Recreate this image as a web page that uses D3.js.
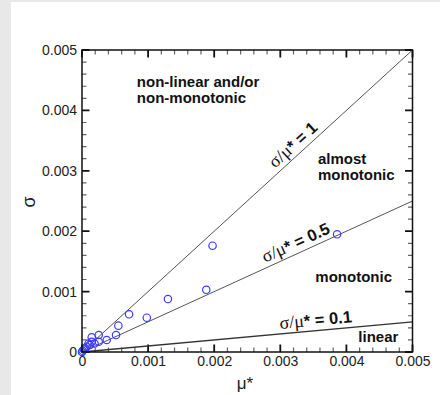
<!DOCTYPE html>
<html><head><meta charset="utf-8">
<script src="https://cdn.jsdelivr.net/npm/d3@7"></script>
<style>
html,body{margin:0;padding:0;background:#e8e8e8;}
svg{display:block;}
</style></head>
<body>
<svg id="chart" width="440" height="395"></svg>
<script>
// ---- data ----
const muStar = [0.003859, 0.001975, 0.00188, 0.00130, 0.00098, 0.000712, 0.00055, 0.000515, 0.000374,
  0.000253, 0.000253, 0.000147, 0.000147, 0.00012, 0.00019, 0.00007, 0.00005, 0.00003, 0.00001, 0.0, 0.0001];
const sigma = [0.001949, 0.00176, 0.00103, 0.000877, 0.000568, 0.000624, 0.000436, 0.000281, 0.000199,
  0.000281, 0.00017, 0.000243, 0.00017, 0.000116, 0.00014, 0.000088, 0.00006, 0.00004, 0.00002, 0.0, 0.00014];
const ratios = [1, 0.5, 0.1];
const ratioLabels = ["1", "0.5", "0.1"];
const ratioLabelX = [0.0033, 0.0033, 0.00355];
const tickValues = [0, 0.001, 0.002, 0.003, 0.004, 0.005];
const tickLabels = ["0", "0.001", "0.002", "0.003", "0.004", "0.005"];
const minorTickValues = [0.0002, 0.0004, 0.0006, 0.0008, 0.0012, 0.0014, 0.0016, 0.0018,
  0.0022, 0.0024, 0.0026, 0.0028, 0.0032, 0.0034, 0.0036, 0.0038, 0.0042, 0.0044, 0.0046, 0.0048];
const regionLabels = [
  {lines: ["non-linear and/or", "non-monotonic"], x: 0.00083, y: 0.00438},
  {lines: ["almost", "monotonic"], x: 0.00357, y: 0.00311},
  {lines: ["monotonic"], x: 0.00353, y: 0.00116},
  {lines: ["linear"], x: 0.00418, y: 0.00017}
];

// ---- layout ----
const svg = d3.select("#chart");
svg.append("rect").attr("x", 11).attr("y", 2).attr("width", 429).attr("height", 393).attr("fill", "#fff");

const L = 82, R = 412.5, T = 50, B = 352;
const x = d3.scaleLinear().domain([0, 0.005]).range([L, R]);
const y = d3.scaleLinear().domain([0, 0.005]).range([B, T]);

const fontSans = "Liberation Sans, Arial, sans-serif";

// inward tick marks on all four sides
function tickPath(vals, len) {
  let p = "";
  vals.forEach(v => {
    const px = x(v), py = y(v);
    p += `M${px},${B}V${B - len}`;
    p += `M${px},${T}V${T + len}`;
    p += `M${L},${py}H${L + len}`;
    p += `M${R},${py}H${R - len}`;
  });
  return p;
}
svg.append("path").attr("d", tickPath(minorTickValues, 4.5))
  .attr("fill", "none").attr("stroke", "#666").attr("stroke-width", 1.2);
svg.append("path").attr("d", tickPath(tickValues, 7.5))
  .attr("fill", "none").attr("stroke", "#111").attr("stroke-width", 1.8);

// ratio lines
const g = svg.append("g");
ratios.forEach((r, i) => {
  g.append("line")
    .attr("x1", x(0)).attr("y1", y(0))
    .attr("x2", x(0.005)).attr("y2", y(0.005 * r))
    .attr("stroke", i === 2 ? "#333" : "#555")
    .attr("stroke-width", i === 2 ? 1.3 : 1);
});

// ratio labels
ratios.forEach((r, i) => {
  const px = x(ratioLabelX[i]), py = y(ratioLabelX[i] * r);
  const ang = Math.atan2(y(0.005 * r) - y(0), x(0.005) - x(0)) * 180 / Math.PI;
  const t = g.append("text")
    .attr("transform", `translate(${px},${py}) rotate(${ang})`)
    .attr("dy", -5)
    .attr("text-anchor", "middle")
    .attr("font-size", 16.5)
    .attr("fill", "#111");
  t.append("tspan").attr("font-family", "Liberation Serif, Times New Roman, serif").attr("font-size", 18).text("σ/μ");
  t.append("tspan").attr("font-family", fontSans).attr("font-weight", "bold").text("* = " + ratioLabels[i]);
});

// region labels
regionLabels.forEach(d => {
  const t = g.append("text")
    .attr("x", x(d.x)).attr("y", y(d.y))
    .attr("font-family", fontSans).attr("font-weight", "bold")
    .attr("font-size", 15).attr("fill", "#111");
  d.lines.forEach((ln, j) => {
    t.append("tspan").attr("x", x(d.x)).attr("dy", j === 0 ? 0 : 16).text(ln);
  });
});

// points
g.selectAll("circle.pt").data(muStar).join("circle")
  .attr("class", "pt")
  .attr("cx", (d) => x(d))
  .attr("cy", (d, i) => y(sigma[i]))
  .attr("r", 3.7)
  .attr("fill", "none")
  .attr("stroke", "#3b3bff")
  .attr("stroke-width", 1.2);

// tick labels via d3 axes
const xb = svg.append("g").attr("transform", `translate(0,${B})`)
  .call(d3.axisBottom(x).tickValues(tickValues).tickSize(0).tickPadding(4).tickFormat((d, i) => tickLabels[i]));
xb.select(".domain").remove();
xb.selectAll(".tick line").remove();
xb.selectAll(".tick text").attr("font-family", fontSans).attr("font-size", 14).attr("fill", "#222");

const yl = svg.append("g").attr("transform", `translate(${L},0)`)
  .call(d3.axisLeft(y).tickValues(tickValues).tickSize(0).tickPadding(5).tickFormat((d, i) => tickLabels[i]));
yl.select(".domain").remove();
yl.selectAll(".tick line").remove();
yl.selectAll(".tick text").attr("font-family", fontSans).attr("font-size", 14).attr("fill", "#222");

// frame
svg.append("rect").attr("x", L).attr("y", T).attr("width", R - L).attr("height", B - T)
  .attr("fill", "none").attr("stroke", "#111").attr("stroke-width", 1.5);

// axis titles
svg.append("text").attr("x", 245).attr("y", 389).attr("text-anchor", "middle")
  .attr("font-family", fontSans).attr("font-size", 17).attr("fill", "#222").text("μ*");
svg.append("text").attr("transform", "translate(35,202) rotate(-90)").attr("text-anchor", "middle")
  .attr("font-family", fontSans).attr("font-size", 18).attr("fill", "#222").text("σ");
</script>
</body></html>
